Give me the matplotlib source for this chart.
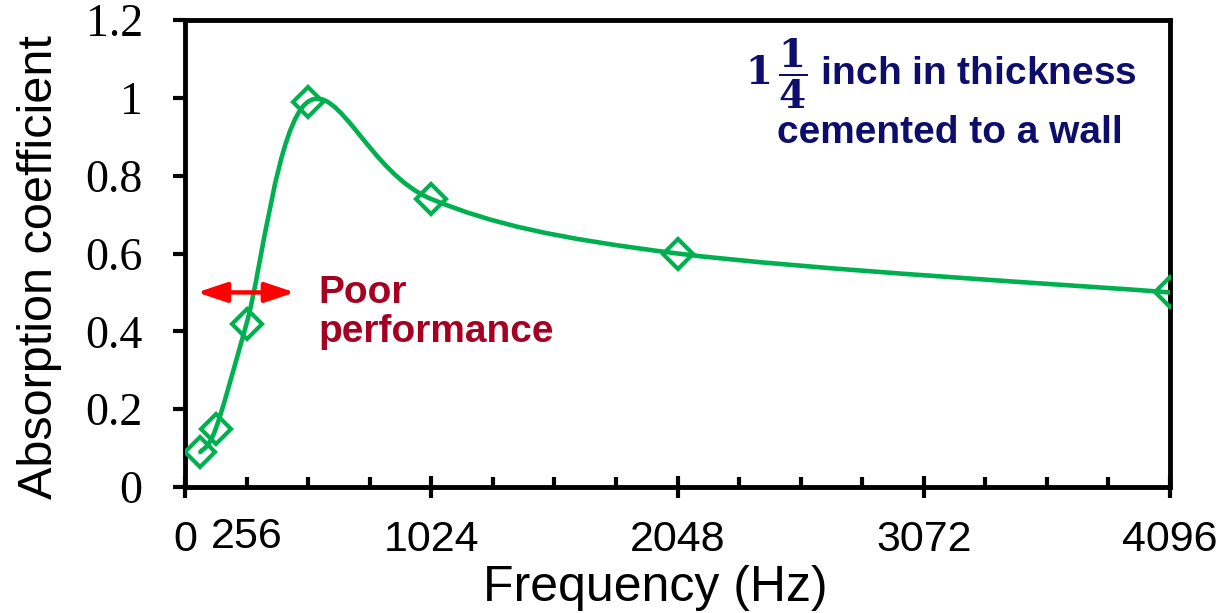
import numpy as np
import matplotlib
matplotlib.use('Agg')
import matplotlib.pyplot as plt
from matplotlib.path import Path
from matplotlib.patches import PathPatch

# data
freq = [64, 128, 256, 512, 1024, 2048, 4096]
alpha = [0.09, 0.15, 0.42, 0.99, 0.74, 0.60, 0.50]

xtick_vals = [0, 1024, 2048, 3072, 4096]
xtick_labels = ['0', '1024', '2048', '3072', '4096']
ytick_vals = [0, 0.2, 0.4, 0.6, 0.8, 1.0, 1.2]
ytick_labels = ['0', '0.2', '0.4', '0.6', '0.8', '1', '1.2']

green = '#00B050'
navy = '#0D0D6B'
darkred = '#A50021'

plt.rcParams['mathtext.fontset'] = 'dejavuserif'

fig = plt.figure(figsize=(12.18, 6.13), dpi=100)
ax = fig.add_axes([185/1218, 1-487/613, 985/1218, 467/613])

# excel-style smoothed line (catmull-rom as cubic bezier)
pts = np.column_stack([freq, alpha]).astype(float)
n = len(pts)
verts = [pts[0]]
codes = [Path.MOVETO]
for i in range(n - 1):
    p0 = pts[max(i - 1, 0)]
    p1 = pts[i]
    p2 = pts[i + 1]
    p3 = pts[min(i + 2, n - 1)]
    verts += [p1 + (p2 - p0) / 6, p2 - (p3 - p1) / 6, p2]
    codes += [Path.CURVE4] * 3
ax.add_patch(PathPatch(Path(verts, codes), fill=False, edgecolor=green,
                       lw=3.3, capstyle='round', joinstyle='round', zorder=3))
ax.plot(freq, alpha, ls='none', marker='D', ms=15, mfc='none', mec=green,
        mew=3, zorder=4)

ax.set_xlim(0, 4096)
ax.set_ylim(0, 1.2)

for s in ax.spines.values():
    s.set_linewidth(3.5)

narrow = ['Liberation Sans Narrow', 'Liberation Sans']
ax.set_xticks(xtick_vals)
ax.set_xticklabels(xtick_labels, family=narrow, fontsize=31)
ax.set_xticks(np.arange(256, 4096, 256), minor=True)
ax.tick_params(axis='x', which='major', direction='inout', length=16, width=3, pad=16)
ax.tick_params(axis='x', which='minor', direction='in', length=7, width=3)
ax.set_yticks(ytick_vals)
ax.set_yticklabels(ytick_labels, family='Liberation Serif', fontsize=33)
ax.tick_params(axis='y', direction='out', length=8.5, width=3, pad=22)
# 256 label sits on a minor tick
ax.text(256, -0.064, '256', ha='center', va='top', fontsize=31, family=narrow,
        transform=ax.get_xaxis_transform())

ax.set_xlabel('Frequency (Hz)', family='Liberation Sans', fontsize=36)
ax.xaxis.set_label_coords(0.477, -0.168)
ax.set_ylabel('Absorption coefficient', family='Liberation Sans', fontsize=35)
ax.yaxis.set_label_coords(-0.125, 0.471)

# poor performance band
ax.annotate('', xy=(50, 0.50), xytext=(457, 0.50),
            arrowprops=dict(arrowstyle='<|-|>,head_length=0.9,head_width=0.3',
                            color='red', lw=3.2, mutation_scale=20,
                            shrinkA=0, shrinkB=0))
ax.text(553, 0.373, 'Poor\nperformance', color=darkred, fontsize=28,
        fontweight='bold', family='Liberation Sans', va='baseline',
        linespacing=1.1)

ax.text(3145, 1.032, r'$\mathbf{1\,\dfrac{1}{4}}$ inch in thickness', color=navy,
        fontsize=28, fontweight='bold', family='Liberation Sans',
        ha='center', va='baseline')
ax.text(3180, 0.885, 'cemented to a wall', color=navy, fontsize=28,
        fontweight='bold', family='Liberation Sans', ha='center', va='baseline')

fig.savefig('out.png', dpi=100)
